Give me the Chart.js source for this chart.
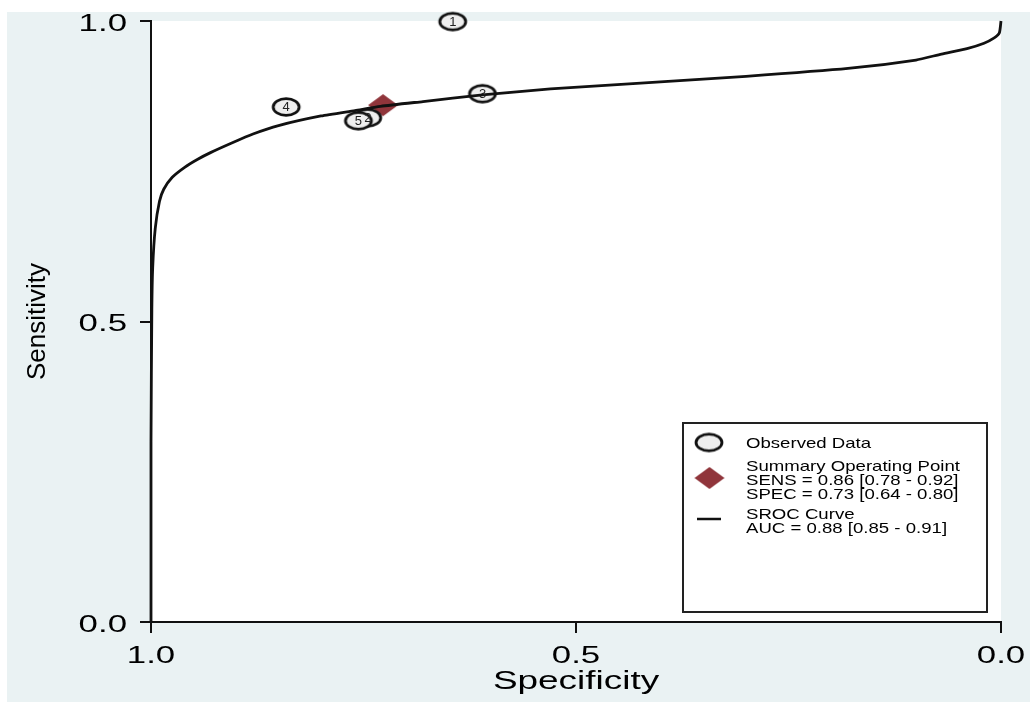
<!DOCTYPE html>
<html>
<head>
<meta charset="utf-8">
<script src="https://cdn.jsdelivr.net/npm/chart.js@4.4.1/dist/chart.umd.min.js"></script>
<style>
  body { margin: 0; background: #fff; }
  #wrap { width: 1030px; height: 702px; }
</style>
</head>
<body>
<div id="wrap"><canvas id="sroc"></canvas></div>
<script>
// Observed studies (specificity, sensitivity)
const studyLabels = ['1', '2', '3', '4', '5'];
const studySpec = [0.645, 0.745, 0.610, 0.841, 0.756];
const studySens = [0.999, 0.839, 0.879, 0.857, 0.834];

// Summary operating point
const summarySpec = [0.727];
const summarySens = [0.860];

// SROC curve
const curveSpec = [1.000, 1.000, 0.999, 0.998, 0.995, 0.990, 0.985, 0.975, 0.960, 0.945,
  0.930, 0.905, 0.880, 0.850, 0.800, 0.760, 0.730, 0.680, 0.610, 0.530,
  0.410, 0.300, 0.180, 0.100, 0.070, 0.040, 0.020, 0.008, 0.002, 0.000];
const curveSens = [0.000, 0.300, 0.520, 0.590, 0.655, 0.700, 0.720, 0.740, 0.757, 0.770,
  0.781, 0.797, 0.812, 0.826, 0.842, 0.851, 0.858, 0.866, 0.877, 0.887,
  0.898, 0.908, 0.921, 0.935, 0.945, 0.954, 0.963, 0.972, 0.980, 1.000];

const tickValues = [0, 0.5, 1];
const tickLabels = ['0.0', '0.5', '1.0'];

const xTitle = 'Specificity';
const yTitle = 'Sensitivity';

const legendObserved = ['Observed Data'];
const legendSummary = ['Summary Operating Point', 'SENS = 0.86 [0.78 - 0.92]', 'SPEC = 0.73 [0.64 - 0.80]'];
const legendCurve = ['SROC Curve', 'AUC = 0.88 [0.85 - 0.91]'];

const FONT = '"Liberation Sans", Arial, sans-serif';
const INK = '#111';
const CRANBERRY = '#90353b';

// marker images
function ellipseMarker() {
  const c = document.createElement('canvas');
  c.width = 32; c.height = 22;
  const g = c.getContext('2d');
  g.beginPath();
  g.ellipse(16, 11, 13, 8.3, 0, 0, Math.PI * 2);
  g.fillStyle = '#eeeeee';
  g.fill();
  g.lineWidth = 2.8;
  g.strokeStyle = INK;
  g.stroke();
  return c;
}

function diamondMarker() {
  const c = document.createElement('canvas');
  c.width = 32; c.height = 24;
  const g = c.getContext('2d');
  g.beginPath();
  g.moveTo(16, 1); g.lineTo(31, 12); g.lineTo(16, 23); g.lineTo(1, 12);
  g.closePath();
  g.fillStyle = CRANBERRY;
  g.fill();
  return c;
}

const circleImg = ellipseMarker();
const diamondImg = diamondMarker();

// draw text stretched horizontally like the original export
function wideText(ctx, text, x, y, size, stretch, align) {
  ctx.save();
  ctx.translate(x, y);
  ctx.scale(stretch, 1);
  ctx.font = size + 'px ' + FONT;
  ctx.textAlign = align;
  ctx.textBaseline = 'alphabetic';
  ctx.fillStyle = '#000';
  ctx.fillText(text, 0, 0);
  ctx.restore();
}

const backdrop = {
  id: 'backdrop',
  beforeDraw(chart) {
    const { ctx, chartArea: a } = chart;
    ctx.save();
    ctx.fillStyle = '#fff';
    ctx.fillRect(0, 0, chart.width, chart.height);
    ctx.fillStyle = '#eaf2f3';
    ctx.fillRect(7, 12, chart.width - 7, chart.height - 12);
    ctx.fillStyle = '#fff';
    ctx.fillRect(a.left, a.top, a.right - a.left, a.bottom - a.top);
    ctx.restore();
  }
};

const studyNumbers = {
  id: 'studyNumbers',
  afterDatasetsDraw(chart) {
    const ctx = chart.ctx;
    const meta = chart.getDatasetMeta(1);
    ctx.save();
    ctx.font = '13px ' + FONT;
    ctx.textAlign = 'center';
    ctx.textBaseline = 'middle';
    ctx.fillStyle = '#222';
    meta.data.forEach((pt, i) => ctx.fillText(studyLabels[i], pt.x, pt.y + 0.5));
    ctx.restore();
  }
};

const axisText = {
  id: 'axisText',
  afterDraw(chart) {
    const ctx = chart.ctx;
    const xs = chart.scales.x, ys = chart.scales.y;
    xs.ticks.forEach(t => wideText(ctx, t.label, xs.getPixelForValue(t.value), 663, 24, 1.45, 'center'));
    ys.ticks.forEach(t => wideText(ctx, t.label, 127, ys.getPixelForValue(t.value) + 9.5, 24, 1.45, 'right'));
    const a = chart.chartArea;
    wideText(ctx, xTitle, (a.left + a.right) / 2, 689, 26, 1.42, 'center');
  }
};

const sideLegend = {
  id: 'sideLegend',
  afterDraw(chart) {
    const ctx = chart.ctx;
    ctx.save();
    ctx.fillStyle = '#fff';
    ctx.fillRect(683, 423, 304, 189);
    ctx.lineWidth = 2;
    ctx.strokeStyle = '#222';
    ctx.strokeRect(683, 423, 304, 189);

    ctx.drawImage(circleImg, 709 - 16, 442.5 - 11);
    ctx.drawImage(diamondImg, 709.5 - 16, 478 - 12);
    ctx.beginPath();
    ctx.moveTo(697, 519); ctx.lineTo(721, 519);
    ctx.lineWidth = 2.5;
    ctx.strokeStyle = INK;
    ctx.stroke();
    ctx.restore();

    wideText(ctx, legendObserved[0], 746, 447.5, 15, 1.24, 'left');
    [470.5, 484.5, 498.5].forEach((y, i) => wideText(ctx, legendSummary[i], 746, y, 15, 1.24, 'left'));
    [519, 533].forEach((y, i) => wideText(ctx, legendCurve[i], 746, y, 15, 1.24, 'left'));
  }
};

function axisOpts(extra) {
  return Object.assign({
    type: 'linear',
    min: 0,
    max: 1,
    afterBuildTicks: s => { s.ticks = tickValues.map(v => ({ value: v })); },
    ticks: { display: false, callback: v => tickLabels[tickValues.indexOf(v)] },
    grid: { drawOnChartArea: false, drawTicks: true, tickLength: 11, color: INK, lineWidth: 2 },
    border: { display: true, color: INK, width: 2 }
  }, extra);
}

new Chart(document.getElementById('sroc'), {
  type: 'scatter',
  data: {
    datasets: [
      {
        label: 'SROC Curve',
        data: curveSpec.map((x, i) => ({ x, y: curveSens[i] })),
        showLine: true,
        borderColor: INK,
        borderWidth: 2.8,
        pointRadius: 0,
        tension: 0.2,
        clip: false,
        order: 0
      },
      {
        label: 'Observed Data',
        data: studySpec.map((x, i) => ({ x, y: studySens[i] })),
        pointStyle: circleImg,
        pointRadius: 10,
        clip: false,
        order: 1
      },
      {
        label: 'Summary Operating Point',
        data: summarySpec.map((x, i) => ({ x, y: summarySens[i] })),
        pointStyle: diamondImg,
        pointRadius: 12,
        clip: false,
        order: 2
      }
    ]
  },
  options: {
    responsive: true,
    maintainAspectRatio: false,
    animation: false,
    layout: { padding: { left: 0, top: 21, right: 29, bottom: 0 } },
    plugins: { legend: { display: false }, tooltip: { enabled: false } },
    scales: {
      x: axisOpts({
        reverse: true,
        afterFit: s => { s.height = 80; }
      }),
      y: axisOpts({
        afterFit: s => { s.width = 151; },
        title: {
          display: true,
          text: yTitle,
          color: '#000',
          font: { family: FONT, size: 26 },
          padding: { top: 22, bottom: 0 }
        }
      })
    }
  },
  plugins: [backdrop, studyNumbers, axisText, sideLegend]
});
</script>
</body>
</html>
